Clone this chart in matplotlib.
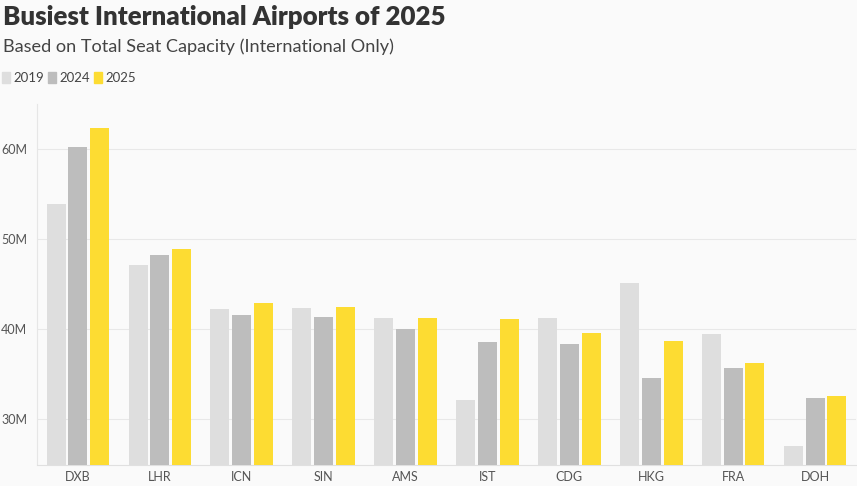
import matplotlib
matplotlib.use("Agg")
import matplotlib.pyplot as plt
import numpy as np
from matplotlib.ticker import FuncFormatter

airports = ["DXB", "LHR", "ICN", "SIN", "AMS", "IST", "CDG", "HKG", "FRA", "DOH"]
years = ["2019", "2024", "2025"]
seats_2019 = [53.9, 47.1, 42.3, 42.4, 41.3, 32.2, 41.3, 45.1, 39.5, 27.1]
seats_2024 = [60.2, 48.3, 41.6, 41.4, 40.0, 38.6, 38.4, 34.6, 35.7, 32.4]
seats_2025 = [62.3, 48.9, 42.9, 42.5, 41.3, 41.1, 39.6, 38.7, 36.3, 32.6]
yticks = [30, 40, 50, 60]

colors = ["#dedede", "#bdbdbd", "#fddc32"]
bg = "#fafafa"
font = "Lato"

fig = plt.figure(figsize=(8.57, 4.86), dpi=100, facecolor=bg)
ax = fig.add_axes([37/857, 21.5/486, 819/857, (464.5-104)/486])
ax.set_facecolor(bg)

x = np.arange(len(airports))
step = 0.266
width = 0.232
for i, (vals, c) in enumerate(zip([seats_2019, seats_2024, seats_2025], colors)):
    ax.bar(x + (i - 1) * step, vals, width=width, color=c, zorder=3, label=years[i])

ax.set_xlim(-0.5, 9.5)
ax.set_ylim(25, 65)
ax.set_yticks(yticks)
ax.yaxis.set_major_formatter(FuncFormatter(lambda v, p: f"{int(v)}M"))
ax.set_xticks(x)
ax.set_xticklabels(airports)
ax.tick_params(axis="both", length=0, labelsize=9, labelcolor="#555555")
ax.tick_params(axis="y", pad=7)
ax.tick_params(axis="x", pad=5)
for lab in ax.get_xticklabels() + ax.get_yticklabels():
    lab.set_fontfamily(font)
ax.grid(axis="y", color="#e8e8e8", linewidth=0.8, zorder=0)
for s in ["top", "right"]:
    ax.spines[s].set_visible(False)
ax.spines["left"].set_color("#e6e6e6")
ax.spines["bottom"].set_color("#e0e0e0")
ax.spines["left"].set_linewidth(0.8)
ax.spines["bottom"].set_linewidth(0.8)

fig.text(3/857, 1 - 17/486, "Busiest International Airports of 2025", fontsize=18.6,
         fontweight="heavy", color="#333333", family=font, va="center", ha="left")
fig.text(3/857, 1 - 47/486, "Based on Total Seat Capacity (International Only)", fontsize=13.1,
         color="#444444", family=font, va="center", ha="left")

# legend
lx = 2
for yr, c in zip(years, colors):
    fig.patches.append(plt.Rectangle((lx/857, 1 - 83/486), 8/857, 11/486,
                                     transform=fig.transFigure, color=c, figure=fig))
    t = fig.text((lx + 11)/857, 1 - 77.5/486, yr, fontsize=9.5, color="#444444",
                 family=font, va="center", ha="left")
    lx += 46

fig.savefig("out.png", dpi=100, facecolor=bg)
